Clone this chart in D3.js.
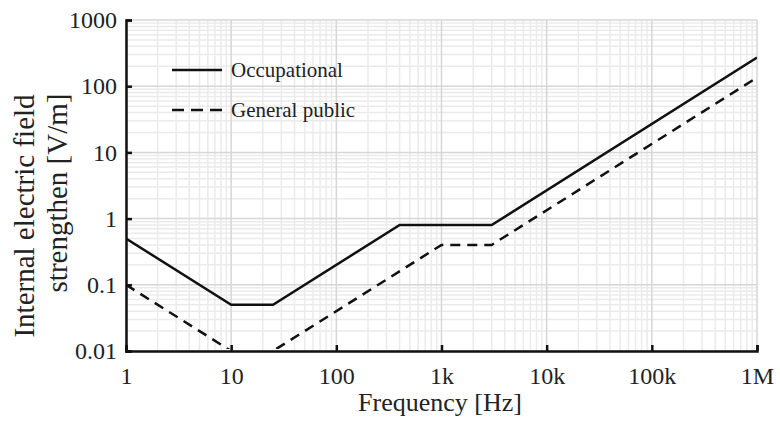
<!DOCTYPE html>
<html>
<head>
<meta charset="utf-8">
<script src="https://cdn.jsdelivr.net/npm/d3@7"></script>
<style>
  body { margin: 0; background: #fff; }
</style>
</head>
<body>
<div id="chart"></div>
<script>
var width = 780;
var height = 424;
var margin = {top: 20, left: 126, right: 23, bottom: 73};
var serif = "'Liberation Serif'";

// data
var occFreq = [1, 10, 25, 400, 3000, 1e6];
var occField = [0.5, 0.05, 0.05, 0.8, 0.8, 270];
var pubFreq = [1, 10, 25, 1000, 3000, 1e6];
var pubField = [0.1, 0.01, 0.01, 0.4, 0.4, 135];

var xTicks = [1, 10, 100, 1e3, 1e4, 1e5, 1e6];
var xTickLabels = ["1", "10", "100", "1k", "10k", "100k", "1M"];
var yTicks = [0.01, 0.1, 1, 10, 100, 1000];
var yTickLabels = ["0.01", "0.1", "1", "10", "100", "1000"];

var seriesNames = ["Occupational", "General public"];

var svg = d3.select("#chart")
  .append("svg")
  .attr("width", width)
  .attr("height", height);

var xScale = d3.scaleLog()
  .domain([1, 1e6])
  .range([margin.left, width - margin.right]);

var yScale = d3.scaleLog()
  .domain([0.01, 1000])
  .range([height - margin.bottom, margin.top]);

// minor grid
var minorX = [], minorY = [];
for (var d = 1; d < 1e6; d *= 10) {
  for (var k = 2; k <= 9; k++) minorX.push(d * k);
}
for (var d2 = 0.01; d2 < 999; d2 *= 10) {
  for (var k2 = 2; k2 <= 9; k2++) minorY.push(d2 * k2);
}

var grid = svg.append("g");
grid.selectAll(".mx").data(minorX).enter().append("line")
  .attr("x1", function(d) { return xScale(d); })
  .attr("x2", function(d) { return xScale(d); })
  .attr("y1", yScale(0.01)).attr("y2", yScale(1000))
  .attr("stroke", "#ebebeb").attr("stroke-width", 1.5);
grid.selectAll(".my").data(minorY).enter().append("line")
  .attr("y1", function(d) { return yScale(d); })
  .attr("y2", function(d) { return yScale(d); })
  .attr("x1", xScale(1)).attr("x2", xScale(1e6))
  .attr("stroke", "#ebebeb").attr("stroke-width", 1.5);
grid.selectAll(".Mx").data(xTicks).enter().append("line")
  .attr("x1", function(d) { return xScale(d); })
  .attr("x2", function(d) { return xScale(d); })
  .attr("y1", yScale(0.01)).attr("y2", yScale(1000))
  .attr("stroke", "#d6d6d6").attr("stroke-width", 1.5);
grid.selectAll(".My").data(yTicks).enter().append("line")
  .attr("y1", function(d) { return yScale(d); })
  .attr("y2", function(d) { return yScale(d); })
  .attr("x1", xScale(1)).attr("x2", xScale(1e6))
  .attr("stroke", "#d6d6d6").attr("stroke-width", 1.5);

// curves
svg.append("clipPath").attr("id", "clip")
  .append("rect")
  .attr("x", margin.left).attr("y", margin.top)
  .attr("width", width - margin.left - margin.right)
  .attr("height", height - margin.top - margin.bottom - 2);

var line = d3.line()
  .x(function(d) { return xScale(d[0]); })
  .y(function(d) { return yScale(d[1]); });

svg.append("path")
  .datum(d3.zip(occFreq, occField))
  .attr("clip-path", "url(#clip)")
  .attr("d", line)
  .attr("fill", "none")
  .attr("stroke", "#111")
  .attr("stroke-width", 2.5);

svg.append("path")
  .datum(d3.zip(pubFreq, pubField))
  .attr("clip-path", "url(#clip)")
  .attr("d", line)
  .attr("fill", "none")
  .attr("stroke", "#111")
  .attr("stroke-width", 2.5)
  .attr("stroke-dasharray", "10,7");

// axes
var xAxis = svg.append("g")
  .attr("transform", `translate(0,${height - margin.bottom})`)
  .call(d3.axisBottom(xScale).tickValues(xTicks)
    .tickSize(-6).tickPadding(16)
    .tickFormat(function(d, i) { return xTickLabels[i]; }));

var yAxis = svg.append("g")
  .attr("transform", `translate(${margin.left},0)`)
  .call(d3.axisLeft(yScale).tickValues(yTicks)
    .tickSize(-6).tickPadding(9)
    .tickFormat(function(d, i) { return yTickLabels[i]; }));

svg.selectAll(".domain").attr("stroke", "#111").attr("stroke-width", 2.5);
svg.selectAll(".tick line").attr("stroke", "#111").attr("stroke-width", 2.5);
svg.selectAll(".tick text")
  .style("font-family", serif)
  .style("font-size", "24px")
  .attr("fill", "#222");

// axis titles
svg.append("text")
  .attr("x", 440).attr("y", 411)
  .attr("text-anchor", "middle")
  .style("font-family", serif)
  .style("font-size", "26px")
  .attr("fill", "#222")
  .text("Frequency [Hz]");

svg.append("text")
  .attr("transform", "translate(34,216) rotate(-90)")
  .attr("text-anchor", "middle")
  .style("font-family", serif)
  .style("font-size", "29px")
  .attr("fill", "#222")
  .text("Internal electric field");

svg.append("text")
  .attr("transform", "translate(67,193) rotate(-90)")
  .attr("text-anchor", "middle")
  .style("font-family", serif)
  .style("font-size", "29px")
  .attr("fill", "#222")
  .text("strengthen [V/m]");

// legend
var legend = svg.append("g");
legend.selectAll("line").data(seriesNames).enter().append("line")
  .attr("x1", 172).attr("x2", 222)
  .attr("y1", function(d, i) { return 70 + i * 40; })
  .attr("y2", function(d, i) { return 70 + i * 40; })
  .attr("stroke", "#111").attr("stroke-width", 2.5)
  .attr("stroke-dasharray", function(d, i) { return i ? "12,7" : null; });
legend.selectAll("text").data(seriesNames).enter().append("text")
  .attr("x", 231)
  .attr("y", function(d, i) { return 77 + i * 40; })
  .style("font-family", serif)
  .style("font-size", "21px")
  .attr("fill", "#222")
  .text(function(d) { return d; });
</script>
</body>
</html>
